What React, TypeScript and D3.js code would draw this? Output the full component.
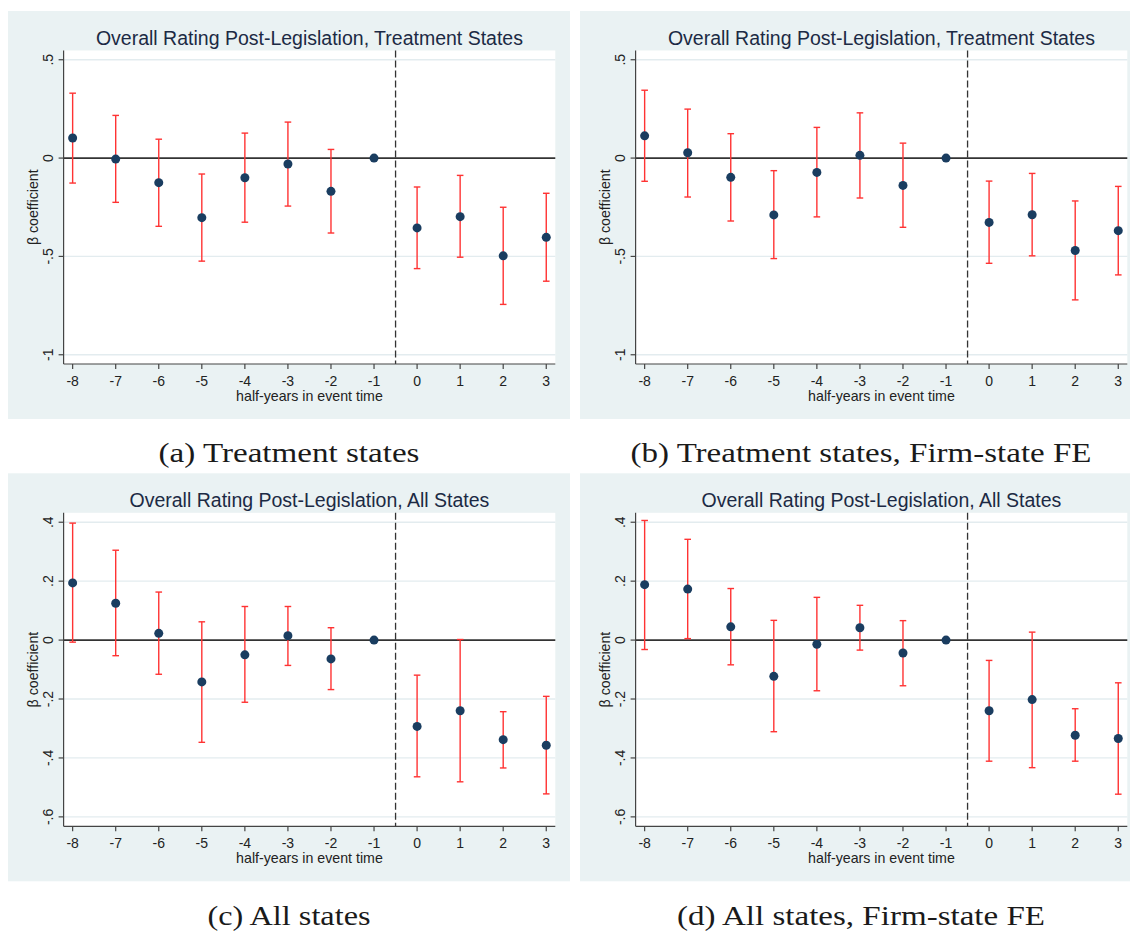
import { scaleLinear } from 'd3'

// event time (half-years)
const eventTime = [-8, -7, -6, -5, -4, -3, -2, -1, 0, 1, 2, 3]

// (a) treatment states
const coefA = [0.102, -0.005, -0.125, -0.303, -0.100, -0.030, -0.169, 0, -0.355, -0.298, -0.497, -0.403]
const hiA = [0.330, 0.217, 0.096, -0.081, 0.127, 0.183, 0.044, null, -0.147, -0.088, -0.250, -0.179]
const loA = [-0.127, -0.225, -0.347, -0.524, -0.326, -0.244, -0.381, null, -0.562, -0.504, -0.744, -0.626]

// (b) treatment states, firm-state FE
const coefB = [0.113, 0.027, -0.098, -0.289, -0.073, 0.014, -0.139, 0, -0.327, -0.288, -0.470, -0.369]
const hiB = [0.345, 0.249, 0.124, -0.064, 0.156, 0.230, 0.076, null, -0.117, -0.078, -0.218, -0.144]
const loB = [-0.118, -0.198, -0.320, -0.511, -0.299, -0.203, -0.352, null, -0.535, -0.497, -0.721, -0.594]

// (c) all states
const coefC = [0.194, 0.125, 0.023, -0.142, -0.050, 0.015, -0.064, 0, -0.293, -0.240, -0.338, -0.357]
const hiC = [0.397, 0.305, 0.163, 0.062, 0.114, 0.114, 0.042, null, -0.119, 0.002, -0.243, -0.191]
const loC = [-0.007, -0.053, -0.116, -0.347, -0.211, -0.086, -0.168, null, -0.464, -0.481, -0.434, -0.522]

// (d) all states, firm-state FE
const coefD = [0.188, 0.173, 0.045, -0.123, -0.014, 0.042, -0.044, 0, -0.240, -0.202, -0.323, -0.334]
const hiD = [0.406, 0.342, 0.175, 0.067, 0.145, 0.118, 0.066, null, -0.069, 0.027, -0.233, -0.145]
const loD = [-0.032, 0.005, -0.084, -0.311, -0.172, -0.034, -0.155, null, -0.411, -0.433, -0.411, -0.523]

// y axes
const upperTicks = [0.5, 0, -0.5, -1]
const upperTickLabels = ['.5', '0', '-.5', '-1']
const upperDomain = [-1.047, 0.547]
const lowerTicks = [0.4, 0.2, 0, -0.2, -0.4, -0.6]
const lowerTickLabels = ['.4', '.2', '0', '-.2', '-.4', '-.6']
const lowerDomain = [-0.632, 0.432]

const titleTreat = 'Overall Rating Post-Legislation, Treatment States'
const titleAll = 'Overall Rating Post-Legislation, All States'
const captions = ['(a) Treatment states', '(b) Treatment states, Firm-state FE', '(c) All states', '(d) All states, Firm-state FE']
const captionWidths = [261, 461, 163, 368]

const eventLine = -0.5
const sans = '"Liberation Sans", Arial, sans-serif'
const bgColor = '#eaf2f3'
const navy = '#1a3d60'

function Panel({ bx, by, title, coef, lo, hi, ticks, tickLabels, domain }) {
  const w = 562
  const h = 408
  const left = bx + 55.6
  const right = left + 491.7
  const top = by + 39.5
  const bottom = by + 353
  const x = scaleLinear().domain([-8.21, 3.21]).range([left, right])
  const y = scaleLinear().domain(domain).range([bottom, top])
  const cx = (left + right) / 2
  return (
    <g fontFamily={sans}>
      <rect x={bx} y={by} width={w} height={h} fill={bgColor} />
      <rect x={left} y={top} width={right - left} height={bottom - top} fill="#fff" />
      <text x={cx} y={by + 33.5} textAnchor="middle" fontSize={19.5} fill="#1c2a44">{title}</text>
      {/* grid */}
      {ticks.map(t => t !== 0 &&
        <line key={t} x1={left} x2={right} y1={y(t)} y2={y(t)} stroke="#e3ecef" strokeWidth={1.3} />)}
      {/* zero line + event line */}
      <line x1={left} x2={right} y1={y(0)} y2={y(0)} stroke="#333" strokeWidth={1.7} />
      <line x1={x(eventLine)} x2={x(eventLine)} y1={top} y2={bottom} stroke="#333" strokeWidth={1.3} strokeDasharray="7,3" />
      {/* axes */}
      <line x1={left} x2={left} y1={top} y2={bottom} stroke="#444" strokeWidth={1.2} />
      <line x1={left} x2={right} y1={bottom} y2={bottom} stroke="#444" strokeWidth={1.2} />
      {ticks.map((t, i) =>
        <g key={t}>
          <line x1={left - 5} x2={left} y1={y(t)} y2={y(t)} stroke="#444" strokeWidth={1.2} />
          <text transform={`translate(${left - 10.5},${y(t)}) rotate(-90)`} textAnchor="middle"
            fontSize={14} fill="#222">{tickLabels[i]}</text>
        </g>)}
      {eventTime.map(t =>
        <g key={t}>
          <line x1={x(t)} x2={x(t)} y1={bottom} y2={bottom + 5} stroke="#444" strokeWidth={1.2} />
          <text x={x(t)} y={bottom + 22} textAnchor="middle" fontSize={14} fill="#222">{t}</text>
        </g>)}
      <text x={cx} y={bottom + 36.5} textAnchor="middle" fontSize={14.2} fill="#222">half-years in event time</text>
      <text transform={`translate(${bx + 30},${(top + bottom) / 2}) rotate(-90)`} textAnchor="middle"
        fontSize={14.2} fill="#222">β coefficient</text>
      {/* error bars */}
      {eventTime.map((t, i) => hi[i] !== null &&
        <g key={t} stroke="#f33" strokeWidth={1.4}>
          <line x1={x(t)} x2={x(t)} y1={y(hi[i])} y2={y(lo[i])} />
          <line x1={x(t) - 3.3} x2={x(t) + 3.3} y1={y(hi[i])} y2={y(hi[i])} />
          <line x1={x(t) - 3.3} x2={x(t) + 3.3} y1={y(lo[i])} y2={y(lo[i])} />
        </g>)}
      {eventTime.map((t, i) =>
        <circle key={t} cx={x(t)} cy={y(coef[i])} r={4.5} fill={navy} />)}
    </g>
  )
}

export default function App() {
  const upperProps = { ticks: upperTicks, tickLabels: upperTickLabels, domain: upperDomain }
  const lowerProps = { ticks: lowerTicks, tickLabels: lowerTickLabels, domain: lowerDomain }
  const capX = [289, 861, 289, 861]
  const capY = [461.5, 461.5, 925, 925]
  return (
    <svg width={1130} height={931} style={{ position: 'absolute', left: 0, top: 0, background: '#fff' }}>
      <Panel bx={8} by={11} title={titleTreat} coef={coefA} lo={loA} hi={hiA} {...upperProps} />
      <Panel bx={580} by={11} title={titleTreat} coef={coefB} lo={loB} hi={hiB} {...upperProps} />
      <Panel bx={8} by={473.3} title={titleAll} coef={coefC} lo={loC} hi={hiC} {...lowerProps} />
      <Panel bx={580} by={473.3} title={titleAll} coef={coefD} lo={loD} hi={hiD} {...lowerProps} />
      {captions.map((c, i) =>
        <text key={c} x={capX[i]} y={capY[i]} textAnchor="middle" fontFamily='"Liberation Serif", "Times New Roman", serif'
          fontSize={27} fill="#1a1a1a" textLength={captionWidths[i]} lengthAdjust="spacingAndGlyphs">{c}</text>)}
    </svg>
  )
}
